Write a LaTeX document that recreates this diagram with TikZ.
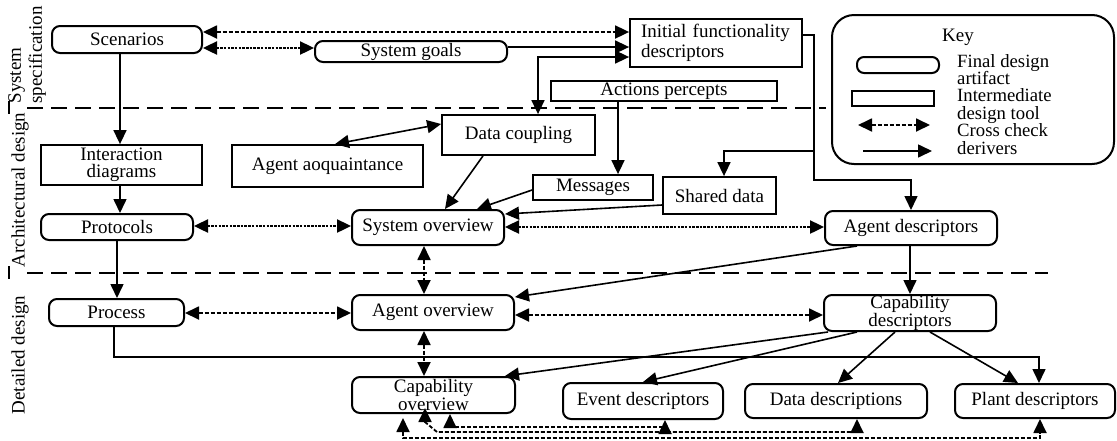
\documentclass[tikz,border=0pt]{standalone}
\usepackage{fontspec}
\setmainfont{Liberation Serif}
\usetikzlibrary{arrows.meta,calc}
\newcommand\nfs{\fontsize{19pt}{19pt}\selectfont}
\tikzset{
  Tri/.tip={Triangle[length=14pt,width=13pt]},
  base/.style={draw, line width=2pt, inner sep=0pt, font=\nfs, align=center},
  final/.style={base, rounded corners=8pt},
  inter/.style={base, line width=1.8pt},
  derive/.style={line width=1.6pt, -Tri},
  crossA/.style={line width=2.4pt, dash pattern=on 2.5pt off 1.2pt},
  crossB/.style={line width=1.8pt, dash pattern=on 4pt off 2pt},
  phase/.style={line width=2pt, dash pattern=on 16pt off 8pt},
  lab/.style={font=\nfs, inner sep=0pt, rotate=90}
}
\begin{document}
\begin{tikzpicture}[x=1pt,y=-1pt]
\useasboundingbox (0,0) rectangle (1117,440);

% phase separators
\coordinate (p1a) at (27,108); \coordinate (p1b) at (826,108);
\coordinate (p2a) at (27,273); \coordinate (p2b) at (1048,273);
\draw[phase] (p1a) -- (p1b);
\draw[phase] (p2a) -- (p2b);
\coordinate (t1a) at (9,101); \coordinate (t1b) at (9,114);
\coordinate (t2a) at (9,266); \coordinate (t2b) at (9,279);
\draw[line width=2pt] (t1a) -- (t1b);
\draw[line width=2pt] (t2a) -- (t2b);

% phase labels
\node[lab, align=left, font=\fontsize{19pt}{21pt}\selectfont] (l1) at (27,55) {System\\specification};
\node[lab] (l2) at (20,190) {Architectural design};
\node[lab] (l3) at (20,355) {Detailed design};

% nodes
\node[final, minimum width=150pt, minimum height=27pt] (scen) at (127,39.5) {Scenarios};
\node[final, minimum width=192pt, minimum height=21pt] (goals) at (411,51.5) {System goals};
\node[inter, minimum height=48pt, text width=150pt, inner xsep=11pt, align=left, font=\fontsize{19pt}{20pt}\selectfont] (idf) at (716,43) {Initial functionality\\descriptors};
\node[inter, minimum width=226pt, minimum height=20pt] (acts) at (664,91) {Actions percepts};
\node[inter, minimum width=153pt, minimum height=40pt] (dc) at (518.5,135) {Data coupling};
\node[inter, minimum width=191pt, minimum height=42pt] (aq) at (327.5,166) {Agent aoquaintance};
\node[inter, minimum width=161pt, minimum height=40pt, font=\fontsize{19pt}{17pt}\selectfont] (inter) at (121.5,165) {Interaction\\diagrams};
\node[inter, minimum width=120pt, minimum height=25pt] (msg) at (593,187.5) {Messages};
\node[inter, minimum width=113pt, minimum height=37pt] (sd) at (719.5,195.5) {Shared data};
\node[final, minimum width=152pt, minimum height=26pt] (prot) at (117,227) {Protocols};
\node[final, minimum width=152pt, minimum height=35pt] (sysov) at (428,227.5) {System overview};
\node[final, minimum width=172pt, minimum height=34pt] (agd) at (911,228) {Agent descriptors};
\node[final, minimum width=135pt, minimum height=27pt] (proc) at (116.5,312.5) {Process};
\node[final, minimum width=162pt, minimum height=35pt] (agov) at (433,312.5) {Agent overview};
\node[final, minimum width=172pt, minimum height=36pt, font=\fontsize{19pt}{14pt}\selectfont] (capd) at (910,313) {Capability\\descriptors};
\node[final, minimum width=163pt, minimum height=36pt, font=\fontsize{19pt}{15pt}\selectfont] (capov) at (433.5,395) {Capability\\overview};
\node[final, minimum width=160pt, minimum height=36pt] (evd) at (643,401) {Event descriptors};
\node[final, minimum width=182pt, minimum height=34pt] (dd) at (836,401) {Data descriptions};
\node[final, minimum width=160pt, minimum height=34pt] (pd) at (1035,401) {Plant descriptors};

% key
\node[draw, line width=2pt, rounded corners=22pt, minimum width=282pt, minimum height=149pt, inner sep=0pt] (key) at (973,89.5) {};
\node[font=\nfs, inner sep=0pt] (keyt) at (958,37) {Key};
\node[final, rounded corners=7pt, minimum width=82pt, minimum height=16pt] (kf) at (898,65) {};
\node[inter, minimum width=82pt, minimum height=15pt] (ki) at (893,98.5) {};
\coordinate (kc1) at (858,125); \coordinate (kc2) at (930,125);
\draw[crossB, Tri-Tri] (kc1) -- (kc2);
\coordinate (kd1) at (863,151); \coordinate (kd2) at (932,151);
\draw[derive] (kd1) -- (kd2);
\node[anchor=north west, align=left, inner sep=0pt, font=\fontsize{18.7pt}{17.4pt}\selectfont] (ktext) at (957,54) {Final design\\artifact\\Intermediate\\design tool\\Cross check\\derivers};

% connectors (top)
\draw[crossB, Tri-Tri] (scen.east |- 0,32) -- (idf.west |- 0,32);
\draw[crossA, Tri-Tri] (scen.east |- 0,48) -- (goals.west |- 0,48);
\draw[derive] (goals.east |- 0,47) -- (idf.west |- 0,47);
\draw[derive, Tri-Tri] (idf.west |- 0,57) -| (dc.north -| 538,0);
\draw[derive] (acts.south -| 618,0) -- (msg.north -| 618,0);
\coordinate (j1) at (814,151);
\coordinate (j2) at (814,180);
\draw[derive] (idf.east |- 0,35) -| (j2) -| (agd.north);
\draw[derive] (j1) -| (sd.north -| 724,0);
\draw[derive] (dc.south -| 483,0) -- (sysov.north -| 445,0);
\draw[derive] (msg.west |- 0,190) -- (sysov.north -| 477,0);
\draw[derive] (sd.west |- 0,205) -- (sysov.east |- 0,214);
\draw[derive, Tri-Tri] (aq.north -| 335,0) -- (dc.west |- 0,124);
\draw[derive] (scen.south -| 120,0) -- (inter.north -| 120,0);
\draw[derive] (inter.south -| 120,0) -- (prot.north -| 120,0);
\draw[derive] (prot.south -| 117,0) -- (proc.north -| 117,0);
\draw[crossA, Tri-Tri] (prot.east |- 0,226) -- (sysov.west |- 0,226);
\draw[crossA, Tri-Tri] (sysov.east |- 0,227) -- (agd.west |- 0,227);
\draw[crossB, Tri-Tri] (sysov.south -| 424,0) -- (agov.north -| 424,0);
\draw[derive] (agd.south -| 857,0) -- (agov.east |- 0,297);
\draw[derive] (agd.south -| 910,0) -- (capd.north -| 910,0);
\draw[crossB, Tri-Tri] (proc.east |- 0,313) -- (agov.west |- 0,313);
\draw[crossB, Tri-Tri] (agov.east |- 0,315) -- (capd.west |- 0,315);
\draw[crossB, Tri-Tri] (agov.south -| 424,0) -- (capov.north -| 424,0);
\draw[derive] (proc.south -| 114,0) |- (1039,357) -- (pd.north -| 1039,0);
\draw[derive] (capd.south -| 828,0) -- (capov.north -| 505,0);
\draw[derive] (capd.south -| 857,0) -- (evd.north -| 643,0);
\draw[derive] (capd.south -| 895,0) -- (dd.north -| 838,0);
\draw[derive] (capd.south -| 930,0) -- (pd.north -| 1018,0);

% bottom cross checks
\draw[crossB, Tri-Tri] (capov.south -| 450,0) -- (450,427) -- (665,427) -- (evd.south -| 665,0);
\draw[crossB, Tri-Tri] ($(capov.south -| 425,0)+(0,-6)$) -- (425,422) -- (437,432) -- (857,432) -- (dd.south -| 857,0);
\draw[crossB, Tri-Tri] ($(capov.south -| 403,0)+(0,4)$) -- (403,438) -- (1040,438) -- (pd.south -| 1040,0);
\end{tikzpicture}
\end{document}
